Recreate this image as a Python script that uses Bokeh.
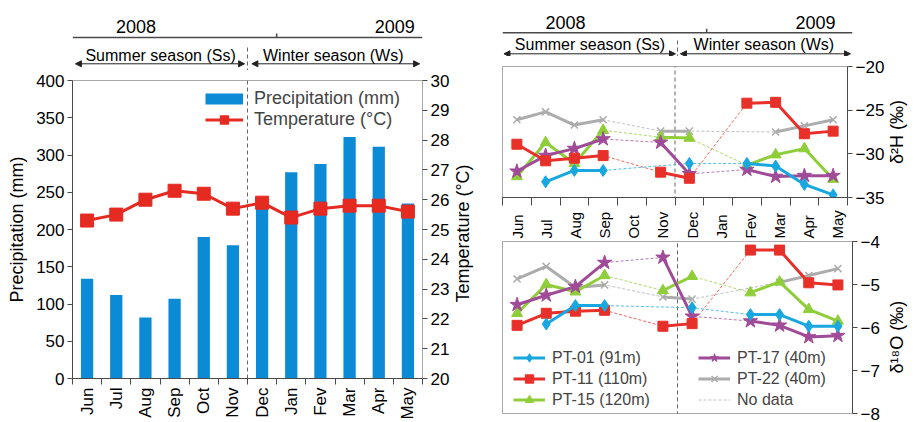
import numpy as np
from math import pi

from bokeh.plotting import figure
from bokeh.layouts import row, column
from bokeh.models import (Range1d, LinearAxis, FixedTicker, Legend, LegendItem,
                          Arrow, NormalHead)
from bokeh.embed import file_html
from bokeh.resources import INLINE
from bokeh.core.properties import value

FONT = "Liberation Sans"
AXIS_GRAY = "#4a4a4a"
FRAME_GRAY = "#a8a8a8"
BAR_BLUE = "#0b8ad6"
TEMP_RED = "#e52a22"

# ---------------------------------------------------------------- data
months = ["Jun", "Jul", "Aug", "Sep", "Oct", "Nov", "Dec", "Jan", "Fev", "Mar", "Apr", "May"]
years = ["2008", "2009"]
seasons = ["Summer season (Ss)", "Winter season (Ws)"]

precip_mm = [134, 112, 82, 107, 190, 179, 235, 277, 288, 324, 311, 235]
temp_c = [25.3, 25.5, 26.0, 26.3, 26.2, 25.7, 25.9, 25.4, 25.7, 25.8, 25.8, 25.6]

wells = ["PT-01 (91m)", "PT-11 (110m)", "PT-15 (120m)", "PT-17 (40m)", "PT-22 (40m)"]

# delta 2H (per mil), None = not sampled
d2h_pt01 = [None, -33.2, -31.9, -31.9, None, None, -31.1, None, -31.1, -31.4, -33.5, -34.7]
d2h_pt11 = [-28.9, -30.8, -30.5, -30.2, None, -32.1, -32.8, None, -24.2, -24.1, -27.7, -27.4]
d2h_pt15 = [-32.6, -28.7, -31.1, -27.3, None, -28.1, -28.2, None, -31.3, -30.1, -29.4, -32.9]
d2h_pt17 = [-32.0, -30.2, -29.4, -28.3, None, -28.7, -32.3, None, -31.8, -32.6, -32.5, -32.5]
d2h_pt22 = [-26.1, -25.2, -26.7, -26.1, None, -27.4, -27.4, None, None, -27.5, -26.8, -26.1]

# delta 18O (per mil)
d18o_pt01 = [None, -5.92, -5.49, -5.49, None, None, -5.54, None, -5.70, -5.70, -5.97, -5.97]
d18o_pt11 = [-5.95, -5.67, -5.62, -5.60, None, -5.97, -5.91, None, -4.20, -4.20, -4.96, -5.01]
d18o_pt15 = [-5.67, -5.00, -5.17, -4.79, None, -5.14, -4.81, None, -5.19, -4.94, -5.58, -5.85]
d18o_pt17 = [-5.47, -5.25, -5.05, -4.49, None, -4.37, -5.74, None, -5.85, -5.95, -6.22, -6.19]
d18o_pt22 = [-4.87, -4.58, -5.07, -5.01, None, -5.29, -5.34, None, None, -4.95, -4.79, -4.63]

# ---------------------------------------------------------------- helpers
n = len(months)
xc = [i + 0.5 for i in range(n)]          # month centres
bounds = list(range(n + 1))               # month boundaries
season_split = months.index("Dec")        # summer / winter boundary
year_split = months.index("Jan")          # calendar year boundary


def make_fig(width, height, lb, rb, tb, bb, **kw):
    p = figure(width=width, height=height, output_backend="svg", toolbar_location=None,
               title_location=None, min_border_left=lb, min_border_right=rb,
               min_border_top=tb, min_border_bottom=bb, **kw)
    p.grid.visible = False
    p.outline_line_color = FRAME_GRAY
    p.background_fill_color = "white"
    p.border_fill_color = "white"
    return p


def style_axis(ax, size="17px"):
    ax.major_label_text_font = FONT
    ax.major_label_text_font_size = size
    ax.major_label_text_color = "black"
    ax.axis_line_color = AXIS_GRAY
    ax.major_tick_line_color = AXIS_GRAY
    ax.minor_tick_line_color = AXIS_GRAY
    ax.major_tick_in = 0
    ax.major_tick_out = 5
    ax.minor_tick_in = 0
    ax.minor_tick_out = 0
    ax.major_label_standoff = 3
    ax.axis_label_text_font = FONT
    ax.axis_label_text_font_style = "normal"
    ax.axis_label_text_font_size = "18px"
    ax.axis_label_text_color = "black"


def month_axis(ax, size, tick_len, standoff, labelled=True):
    style_axis(ax, size)
    ax.ticker = FixedTicker(ticks=xc if labelled else [], minor_ticks=bounds)
    if labelled:
        ax.major_label_overrides = {x: m for x, m in zip(xc, months)}
    ax.major_label_orientation = pi / 2
    ax.major_tick_out = 0
    ax.minor_tick_out = tick_len
    ax.major_label_standoff = standoff


def title_strip(width, height, text, y_from_top, x_centre):
    """Narrow figure that carries a rotated axis title."""
    t = make_fig(width, height, 0, 0, 0, 0, x_range=Range1d(0, width),
                 y_range=Range1d(0, height), x_axis_location=None, y_axis_location=None)
    t.outline_line_color = None
    t.text(x=[x_centre], y=[height - y_from_top], text=[text], angle=pi / 2,
           text_font=value(FONT), text_font_size="18px", text_align="center",
           text_baseline="middle", text_color="black")
    return t


def season_line(p, y0, y1):
    """Dashed summer/winter divider."""
    p.add_layout(Arrow(start=None, end=None, x_start=season_split, y_start=y0,
                       x_end=season_split, y_end=y1, line_color="#666",
                       line_width=1, line_dash="4 3", level="underlay"))


def header(width, height, lb, rb, pos):
    """Year bar and season arrows drawn above a month axis (y in pixels from top)."""
    h = make_fig(width, height, lb, rb, 0, 0,
                 x_range=Range1d(0, n), y_range=Range1d(height, 0),
                 x_axis_location=None, y_axis_location=None)
    h.outline_line_color = None
    h.text(x=pos["year_x"], y=[pos["year_y"]] * 2, text=years,
           text_font=value(FONT), text_font_size="18px", text_align="center",
           text_baseline="middle", text_color="black")
    h.segment(x0=[0], y0=[pos["line_y"]], x1=[n], y1=[pos["line_y"]],
              line_color=AXIS_GRAY, line_width=1.5)
    h.segment(x0=[year_split], y0=[pos["line_y"] - 4], x1=[year_split], y1=[pos["line_y"]],
              line_color=AXIS_GRAY, line_width=1.5)
    h.text(x=pos["season_x"], y=[pos["season_y"]] * 2, text=seasons,
           text_font=value(FONT), text_font_size="16px", text_align="center",
           text_baseline="middle", text_color="black")
    for x0, x1 in pos["arrows"]:
        h.add_layout(Arrow(start=NormalHead(size=6, fill_color="#222", line_color="#222"),
                           end=NormalHead(size=6, fill_color="#222", line_color="#222"),
                           x_start=x0, y_start=pos["arrow_y"], x_end=x1, y_end=pos["arrow_y"],
                           line_color="#222", line_width=1))
    h.segment(x0=[season_split], y0=[pos["vline_top"]], x1=[season_split], y1=[height],
              line_color="#666", line_width=1, line_dash="4 3")
    return h


# ---------------------------------------------------------------- left: climate
L_W, L_LB, L_RB = 452, 72, 28
hdr_left = header(L_W, 70, L_LB, L_RB, dict(
    year_x=[2.18, 11.05], year_y=25.5, line_y=37,
    season_x=[3.02, 8.94], season_y=54.5, arrow_y=63.3,
    arrows=[(0.1, 5.9), (6.15, 11.9)], vline_top=47))

clim = make_fig(L_W, 352, L_LB, L_RB, 10, 36,
                x_range=Range1d(0, n), y_range=Range1d(0, 400))
clim.extra_y_ranges = {"temp": Range1d(20, 30)}
mm_per_px = 400 / 306

season_line(clim, 0, 400 + 10 * mm_per_px)
clim.vbar(x=xc, top=precip_mm, width=0.42, fill_color=BAR_BLUE, line_color=None)
t_line = clim.line(xc, temp_c, y_range_name="temp", line_color=TEMP_RED, line_width=3)
t_mark = clim.scatter(xc, temp_c, y_range_name="temp", marker="square", size=13,
                      fill_color=TEMP_RED, line_color=TEMP_RED)
# legend key for the bars: a thick flat stroke
bar_key = clim.line(x=[float("nan")], y=[float("nan")], line_color=BAR_BLUE,
                    line_width=11, line_cap="butt")

month_axis(clim.xaxis[0], "17px", 6, 3)
yl = clim.yaxis[0]
style_axis(yl)
yl.ticker = FixedTicker(ticks=list(range(0, 401, 50)))
yl.axis_label = "Precipitation (mm)"
yl.axis_label_standoff = 6

yr = LinearAxis(y_range_name="temp", ticker=FixedTicker(ticks=list(range(20, 31))))
style_axis(yr)
yr.axis_line_color = FRAME_GRAY
clim.add_layout(yr, "right")

leg_clim = Legend(items=[LegendItem(label="Precipitation (mm)", renderers=[bar_key]),
                         LegendItem(label="Temperature (°C)", renderers=[t_line, t_mark])],
                  location=(133, 248), glyph_width=38, glyph_height=21, spacing=0,
                  label_standoff=11, padding=0, margin=0, border_line_color=None,
                  background_fill_alpha=0, label_text_font=FONT, label_text_font_size="18px")
clim.add_layout(leg_clim)

title_temp = title_strip(22, 422, "Temperature (°C)", 233, 10)

# ---------------------------------------------------------------- right: isotopes
R_LB, R_RB, R_FW, R_TW = 28, 35, 350, 28
R_W = R_LB + R_FW + R_RB
hdr_right = header(R_W + R_TW, 56, R_LB, R_RB + R_TW, dict(
    year_x=[2.16, 10.73], year_y=21.5, line_y=32.3,
    season_x=[3.0, 8.96], season_y=44, arrow_y=53.3,
    arrows=[(0.05, 5.93), (6.1, 11.93)], vline_top=40))

styles = [("#19a7e0", "diamond", 12),
          ("#e8302a", "square", 10),
          ("#8fce3a", "triangle", 11),
          ("#a04b98", "star", 15),
          ("#acacac", "x", 10)]
draw_order = [4, 2, 3, 1, 0]


def iso_panel(p, series):
    x = np.array(xc)
    gaps, keys = {}, {}
    for i in draw_order:
        y = np.array(series[i], dtype=float)
        ok = ~np.isnan(y)
        gaps[i] = p.line(x[ok], y[ok], line_color=styles[i][0], line_width=1,
                         line_dash="3 2", line_alpha=0.75)
    for i in draw_order:
        y = np.array(series[i], dtype=float)
        ok = ~np.isnan(y)
        color, marker, size = styles[i]
        ln = p.line(x, y, line_color=color, line_width=3)
        mk = p.scatter(x[ok], y[ok], marker=marker, size=size, fill_color=color,
                       line_color=color, line_width=1.5 if marker == "x" else 1)
        keys[i] = [ln, mk]
    return gaps, keys


def iso_axis(p, ticks):
    ax = p.yaxis[0]
    style_axis(ax)
    ax.ticker = FixedTicker(ticks=ticks)


# upper panel: delta 2H, month ticks below (names sit in the lower panel's top band)
top = make_fig(R_W, 151, R_LB, R_RB, 10, 10, x_range=Range1d(0, n),
               y_range=Range1d(-35, -20), y_axis_location="right")
h_per_px = 15 / 131
season_line(top, -35 - 10 * h_per_px, -20 + 10 * h_per_px)
iso_panel(top, [d2h_pt01, d2h_pt11, d2h_pt15, d2h_pt17, d2h_pt22])
iso_axis(top, [-35, -30, -25, -20])
month_axis(top.xaxis[0], "15px", 8, 0, labelled=False)
title_h = title_strip(R_TW, 151, "δ²H (‰)", 75.5, 9)

# lower panel: delta 18O, carries the month names above it
bot = make_fig(R_W, 215, R_LB, R_RB, 31, 9, x_range=Range1d(0, n),
               y_range=Range1d(-8, -4), y_axis_location="right", x_axis_location="above")
o_per_px = 4 / 175
season_line(bot, -8 - 9 * o_per_px, -4 + 31 * o_per_px)
gaps, keys = iso_panel(bot, [d18o_pt01, d18o_pt11, d18o_pt15, d18o_pt17, d18o_pt22])
iso_axis(bot, [-8, -7, -6, -5, -4])
month_axis(bot.xaxis[0], "15px", 0, 3)
bot.xaxis[0].axis_line_color = None
title_o = title_strip(R_TW, 215, "δ¹⁸O (‰)", 119.5, 9)


def key_legend(items, vx):
    return Legend(items=items, location=(vx, 3), glyph_width=32, glyph_height=21,
                  spacing=0, label_standoff=7, padding=0, margin=0,
                  border_line_color=None, background_fill_alpha=0,
                  label_text_font=FONT, label_text_font_size="16px")


bot.add_layout(key_legend([LegendItem(label=wells[i], renderers=keys[i]) for i in (0, 1, 2)], 11))
bot.add_layout(key_legend([LegendItem(label=wells[3], renderers=keys[3]),
                           LegendItem(label=wells[4], renderers=keys[4]),
                           LegendItem(label="No data", renderers=[gaps[4]])], 196))

layout = row(column(hdr_left, clim), title_temp,
             column(hdr_right, row(top, title_h), row(bot, title_o)))

with open("out.html", "w") as f:
    f.write(file_html(layout, INLINE))
